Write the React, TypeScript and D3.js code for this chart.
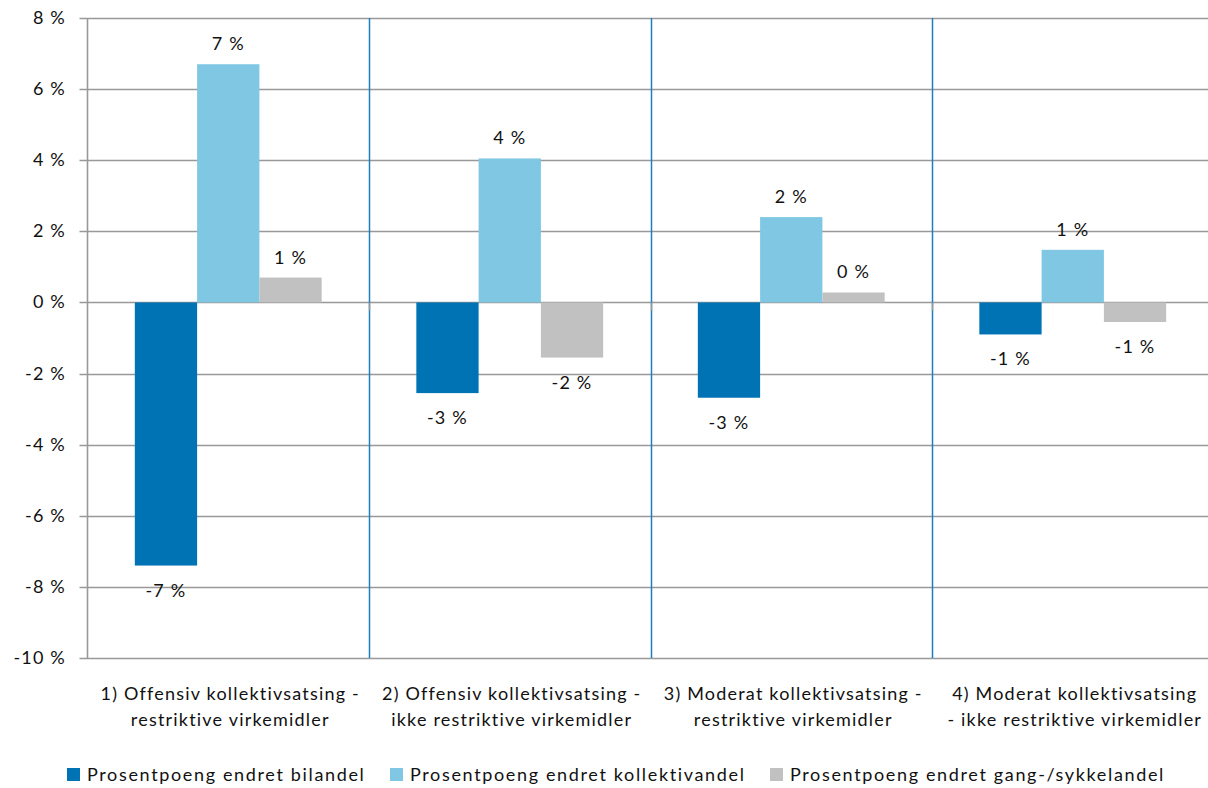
import { useEffect, useRef } from 'react';
import * as d3 from 'd3';

const categories = [
  ['1) Offensiv kollektivsatsing  -', 'restriktive virkemidler'],
  ['2) Offensiv kollektivsatsing  -', 'ikke restriktive virkemidler'],
  ['3) Moderat kollektivsatsing  -', 'restriktive virkemidler'],
  ['4) Moderat kollektivsatsing', '- ikke restriktive virkemidler'],
];
const seriesNames = [
  'Prosentpoeng endret bilandel',
  'Prosentpoeng endret kollektivandel',
  'Prosentpoeng endret gang-/sykkelandel',
];
const bilandel = [-7.4, -2.55, -2.68, -0.9];
const kollektivandel = [6.7, 4.05, 2.4, 1.48];
const gangSykkel = [0.7, -1.55, 0.28, -0.55];
const yTicks = [8, 6, 4, 2, 0, -2, -4, -6, -8, -10];
const colors = ['#0073b4', '#7fc7e3', '#c0c1c0'];

export default function App() {
  const svgRef = useRef<SVGSVGElement>(null);

  useEffect(() => {
    const svg = d3.select(svgRef.current);
    svg.selectAll('*').remove();
    const font = 'Lato, "Open Sans", sans-serif';
    const fs = 18;
    const ls = '1.2px';
    const series = [bilandel, kollektivandel, gangSykkel];

    const left = 87.5, right = 1213.5, top = 18, bottom = 658;
    const x = d3.scaleBand<number>().domain(d3.range(categories.length)).range([left, right]);
    const inner = d3.scaleBand<number>().domain([0, 1, 2]).range([0, x.bandwidth()]).paddingOuter(0.76).paddingInner(0);
    const y = d3.scaleLinear().domain([-10, 8]).range([bottom, top]);

    // grid
    svg.append('g').selectAll('line').data(yTicks).enter().append('line')
      .attr('x1', left - 8).attr('x2', right)
      .attr('y1', d => Math.round(y(d)) + 0.5).attr('y2', d => Math.round(y(d)) + 0.5)
      .attr('stroke', '#999').attr('stroke-width', 1.6);
    svg.append('line').attr('x1', left).attr('x2', left).attr('y1', top).attr('y2', bottom)
      .attr('stroke', '#999').attr('stroke-width', 1.6);

    svg.append('g').selectAll('text').data(yTicks).enter().append('text')
      .attr('x', 66).attr('y', d => y(d) + 6).attr('text-anchor', 'end')
      .attr('font-family', font).attr('font-size', fs).attr('letter-spacing', ls).attr('fill', '#111')
      .text(d => `${d} %`);

    // bars
    series.forEach((vals, s) => {
      const g = svg.append('g');
      g.selectAll('rect').data(vals).enter().append('rect')
        .attr('x', (d, i) => (x(i) as number) + (inner(s) as number))
        .attr('width', inner.bandwidth())
        .attr('y', d => y(Math.max(0, d)))
        .attr('height', d => Math.abs(y(d) - y(0)))
        .attr('fill', colors[s]);
      g.selectAll('text').data(vals).enter().append('text')
        .attr('x', (d, i) => (x(i) as number) + (inner(s) as number) + inner.bandwidth() / 2)
        .attr('y', d => d >= 0 ? y(d) - 14 : y(d) + 31)
        .attr('text-anchor', 'middle')
        .attr('font-family', font).attr('font-size', fs).attr('letter-spacing', ls).attr('fill', '#111')
        .text(d => `${Math.round(d) === 0 ? 0 : Math.round(d)} %`);
    });

    // separators
    const seps = d3.range(1, categories.length).map(i => x(i) as number);
    svg.append('g').selectAll('line').data(seps).enter().append('line')
      .attr('x1', d => Math.round(d) + 0.5).attr('x2', d => Math.round(d) + 0.5)
      .attr('y1', top).attr('y2', bottom)
      .attr('stroke', '#1c7fc2').attr('stroke-width', 1.5);
    svg.append('g').selectAll('line').data(seps).enter().append('line')
      .attr('x1', d => Math.round(d) + 0.5).attr('x2', d => Math.round(d) + 0.5)
      .attr('y1', y(0)).attr('y2', y(0) + 8)
      .attr('stroke', '#999').attr('stroke-width', 1.5);

    // category labels
    const cg = svg.append('g');
    categories.forEach((lines, i) => {
      const t = cg.append('text')
        .attr('font-family', font).attr('font-size', fs).attr('letter-spacing', ls).attr('fill', '#111')
        .attr('text-anchor', 'middle');
      lines.forEach((ln, k) => {
        t.append('tspan').attr('x', (x(i) as number) + x.bandwidth() / 2 + 2)
          .attr('y', 700 + k * 26).text(ln);
      });
    });

    // legend
    const legendX = [67, 390, 770];
    const lg = svg.append('g');
    seriesNames.forEach((name, s) => {
      lg.append('rect').attr('x', legendX[s]).attr('y', 768).attr('width', 13).attr('height', 13)
        .attr('fill', colors[s]);
      lg.append('text').attr('x', legendX[s] + 20).attr('y', 781)
        .attr('font-family', font).attr('font-size', fs).attr('letter-spacing', '1.65px').attr('fill', '#111')
        .text(name);
    });
  }, []);

  return (
    <svg ref={svgRef} width={1208} height={788}
      style={{ position: 'absolute', left: 0, top: 0, background: '#fff' }} />
  );
}
